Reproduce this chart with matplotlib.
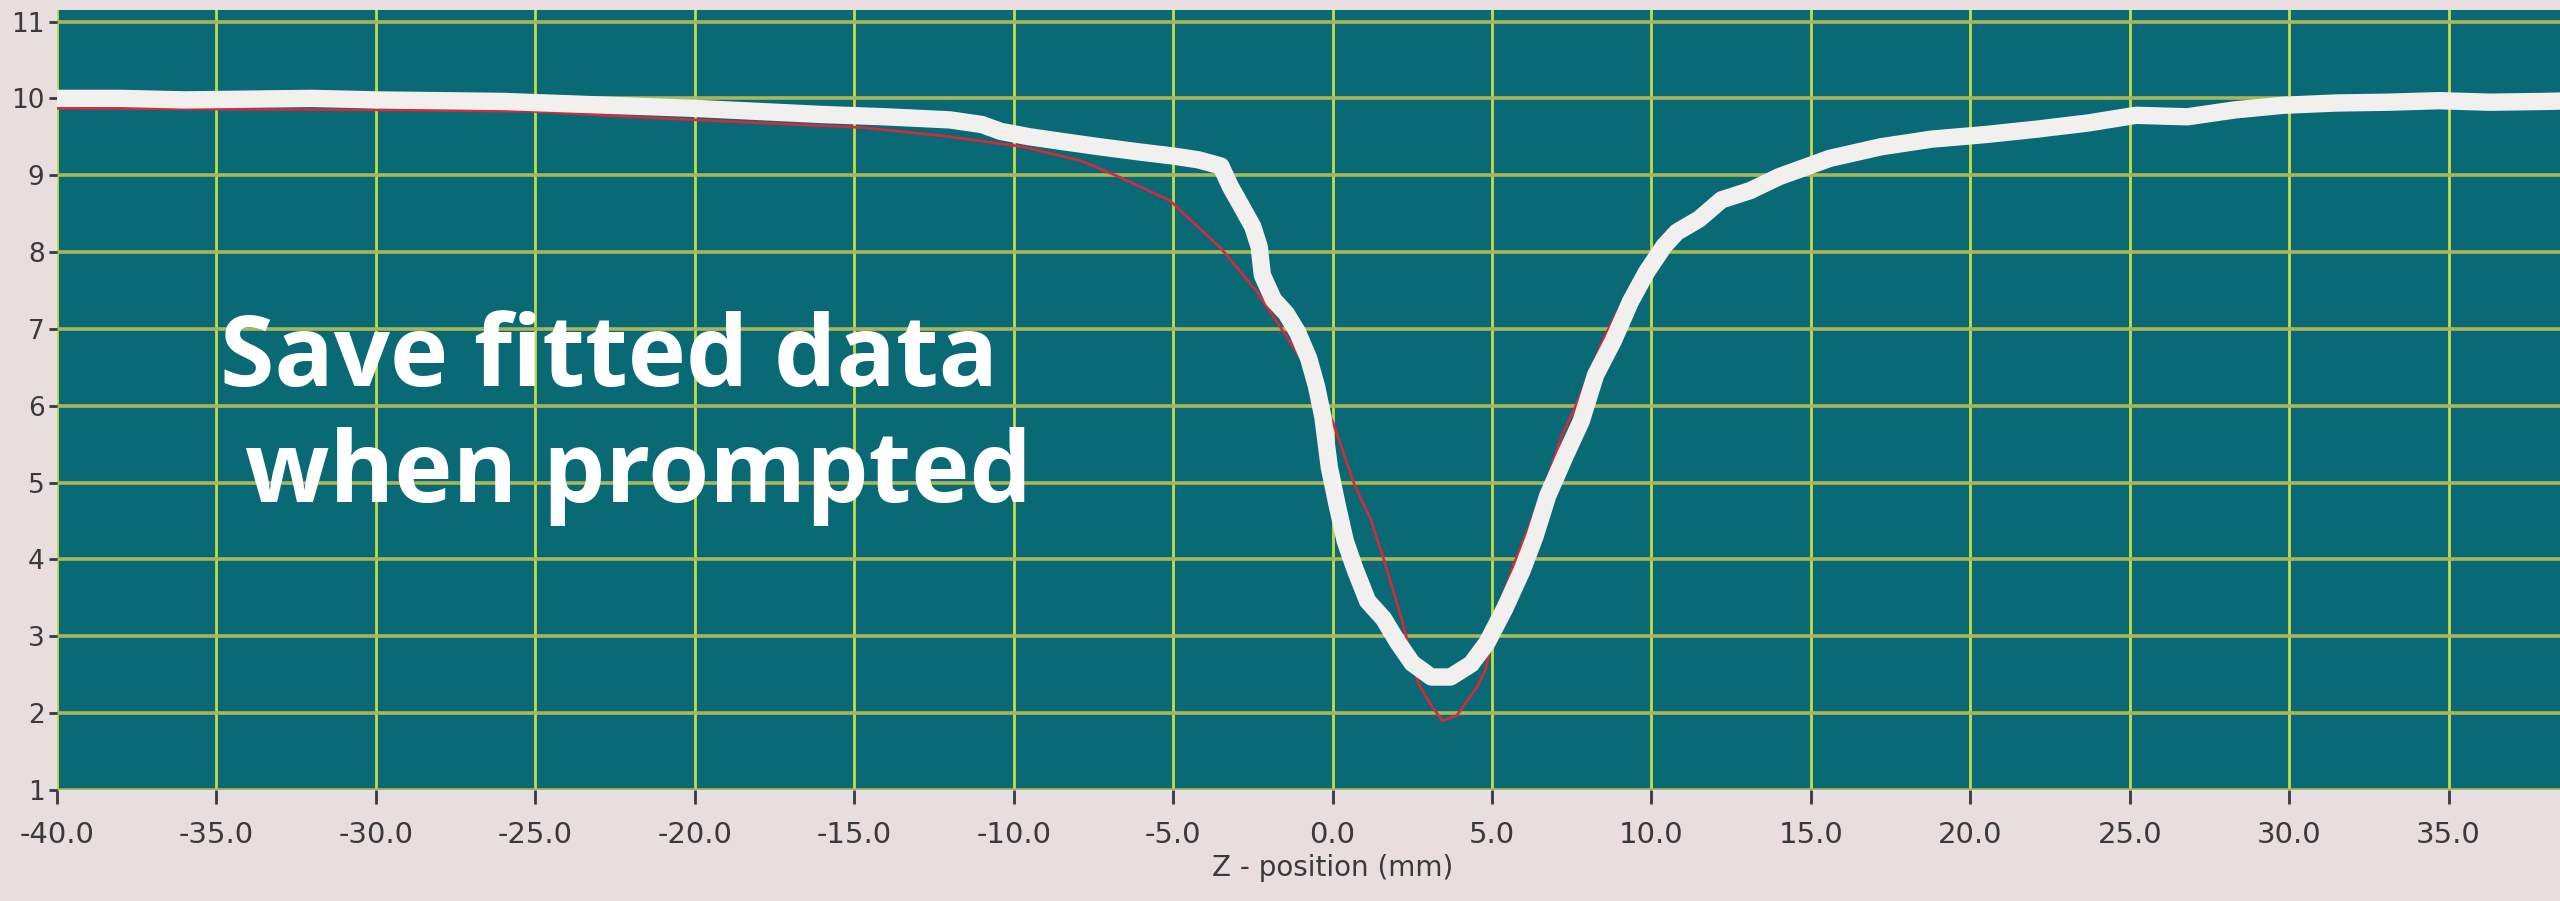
import matplotlib
matplotlib.use("Agg")
import matplotlib.pyplot as plt

zscan_pos = [-40, -38, -36, -34, -32, -30, -28, -26, -24, -22, -20, -18, -16, -14,
             -12, -11, -10.4, -9.5, -8.5, -7.3, -6.0, -5.0, -4.2, -3.5, -3.2, -2.9,
             -2.5, -2.3, -2.2, -1.85, -1.45, -1.1, -0.75, -0.5, -0.3, -0.1, 0.15,
             0.4, 0.7, 1.1, 1.6, 2.05, 2.5, 3.1, 3.7, 4.35, 4.85, 5.4, 5.95, 6.35,
             6.75, 7.3, 7.8, 8.25, 8.8, 9.35, 9.85, 10.4, 10.8, 11.5, 12.2, 13.1,
             14.0, 15.6, 17.2, 18.8, 20.5, 22.1, 23.7, 25.2, 26.8, 28.3, 29.8,
             31.5, 33.1, 34.7, 36.3, 38.0, 40.0]
zscan_val = [10.0, 10.0, 9.98, 9.99, 10.0, 9.98, 9.97, 9.96, 9.93, 9.9, 9.87, 9.83,
             9.79, 9.76, 9.72, 9.66, 9.57, 9.5, 9.44, 9.37, 9.3, 9.25, 9.2, 9.12,
             8.85, 8.63, 8.33, 8.07, 7.7, 7.38, 7.2, 6.96, 6.62, 6.25, 5.85, 5.2,
             4.7, 4.24, 3.88, 3.46, 3.23, 2.92, 2.65, 2.47, 2.47, 2.64, 2.92, 3.36,
             3.86, 4.3, 4.83, 5.35, 5.8, 6.4, 6.84, 7.36, 7.74, 8.08, 8.26, 8.43,
             8.68, 8.8, 8.98, 9.22, 9.37, 9.47, 9.53, 9.6, 9.68, 9.78, 9.76, 9.85,
             9.91, 9.94, 9.95, 9.97, 9.95, 9.96, 9.98]

fit_pos = [-40, -35, -30, -25, -22, -18.4, -14.7, -12.2, -9.7, -7.9, -6.7, -5.1,
           -3.5, -2.4, -1.6, -1.0, -0.5, 0.0, 0.7, 1.2, 1.7, 2.2, 2.7, 3.1, 3.45,
           3.9, 4.55, 4.8, 5.2, 5.7, 6.25, 6.7, 7.2, 7.7, 8.5, 8.9, 9.5, 10.4,
           11.0, 12.5, 14.0, 16.0, 18.0, 20.0, 23.0, 26.0, 30.0, 35.0, 40.0]
fit_val = [9.87, 9.86, 9.85, 9.83, 9.76, 9.69, 9.62, 9.51, 9.37, 9.19, 8.98, 8.67,
           8.05, 7.5, 7.0, 6.62, 6.2, 5.8, 4.96, 4.52, 3.88, 3.18, 2.38, 2.1, 1.9,
           1.97, 2.35, 2.57, 3.36, 3.95, 4.52, 5.0, 5.62, 6.06, 6.87, 7.2, 7.5,
           8.0, 8.25, 8.65, 8.95, 9.2, 9.4, 9.52, 9.66, 9.76, 9.85, 9.9, 9.93]

x_ticks = list(range(-40, 41, 5))
y_ticks = list(range(1, 12))

fig = plt.figure(figsize=(25.6, 9.01), dpi=100, facecolor='#e8dedf')
ax = fig.add_axes([57 / 2560, 0.1232, 2551 / 2560, 0.8657])
ax.set_facecolor('#096975')

ax.plot(fit_pos, fit_val, color='#d42a3c', lw=1.9, zorder=3)
ax.plot(zscan_pos, zscan_val, color='#f2efef', lw=12.5, solid_joinstyle='round',
        solid_capstyle='round', zorder=4)

ax.set_xlim(-40, 40)
ax.set_ylim(1, 11.15)
ax.set_xticks(x_ticks)
ax.set_xticklabels([f'{v:.1f}' for v in x_ticks])
ax.set_yticks(y_ticks)
ax.set_yticklabels([str(v) for v in y_ticks])

ax.xaxis.grid(True, color='#c4dc48', lw=2.0)
ax.yaxis.grid(True, color='#a9b65a', lw=2.6)
ax.set_axisbelow(True)
for s in ax.spines.values():
    s.set_visible(False)

ax.tick_params(axis='x', length=10, width=2, color='#3a3a3a', pad=12,
               labelsize=21, labelcolor='#3a3a3a')
ax.tick_params(axis='y', length=6, width=2, color='#3a3a3a', pad=3,
               labelsize=19, labelcolor='#3a3a3a')
ax.set_xlabel('Z - position (mm)', fontsize=20, color='#3a3a3a', labelpad=4)

# overlay instruction text
fig.text(220 / 2560, 1 - 386 / 901, 'Save fitted data', color='white',
         fontsize=71, family='Open Sans', weight='bold', ha='left', va='baseline')
fig.text(245 / 2560, 1 - 502 / 901, 'when prompted', color='white',
         fontsize=71, family='Open Sans', weight='bold', ha='left', va='baseline')

fig.savefig('out.png', dpi=100, facecolor=fig.get_facecolor())
